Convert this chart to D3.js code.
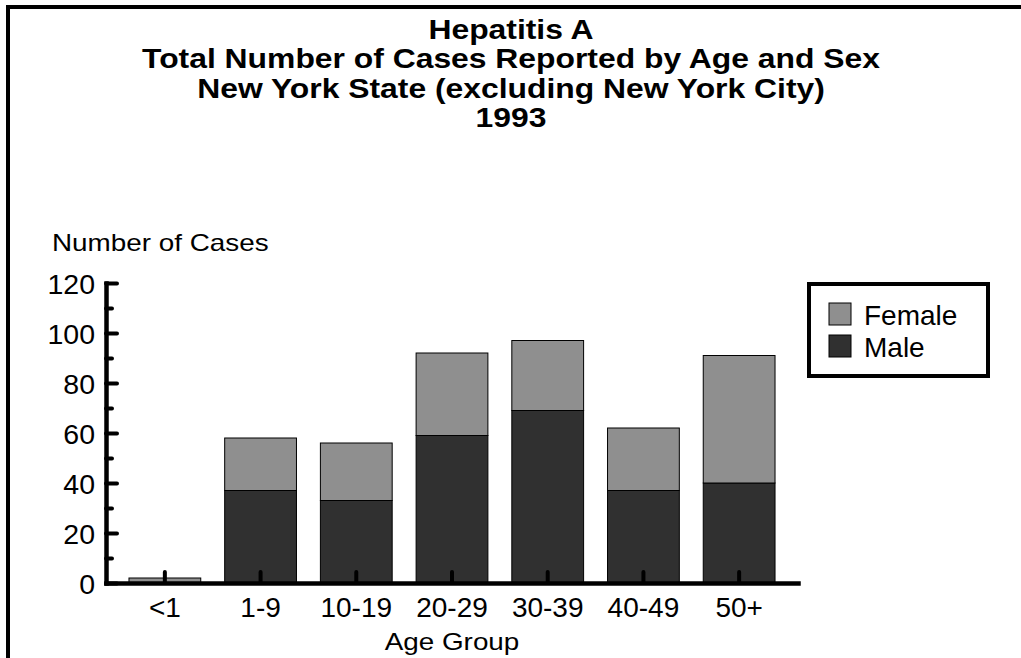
<!DOCTYPE html>
<html>
<head>
<meta charset="utf-8">
<script src="https://cdn.jsdelivr.net/npm/d3@7"></script>
<style>
  body { margin: 0; background: #fff; }
  text { font-family: "Liberation Sans", Arial, sans-serif; fill: #000; }
</style>
</head>
<body>
<div class="container"></div>
<script>
// Chart data
const ageGroups = ["<1", "1-9", "10-19", "20-29", "30-39", "40-49", "50+"];
const maleCases = [0, 37, 33, 59, 69, 37, 40];
const femaleCases = [2, 21, 23, 33, 28, 25, 51];
const yTicks = [0, 20, 40, 60, 80, 100, 120];
const yMinorTicks = [10, 30, 50, 70, 90, 110];
const titleLines = [
  "Hepatitis A",
  "Total Number of Cases Reported by Age and Sex",
  "New York State (excluding New York City)",
  "1993"
];
const seriesNames = ["Female", "Male"];

const width = 1021;
const height = 658;

const color = d3.scaleOrdinal()
    .domain(seriesNames)
    .range(["#8f8f8f", "#303030"]);

const svg = d3.select(".container").append("svg")
    .attr("width", width)
    .attr("height", height);

// page frame (top + left edges only)
svg.append("path")
    .attr("d", "M8," + height + "V7H" + width)
    .attr("fill", "none")
    .attr("stroke", "#000")
    .attr("stroke-width", 4);

// helper for (optionally) horizontally stretched text
function label(x, y, txt, anchor, size, weight, sx) {
  svg.append("g")
      .attr("transform", "translate(" + x + "," + y + ")")
    .append("text")
      .attr("transform", "scale(" + (sx || 1) + ",1)")
      .attr("text-anchor", anchor)
      .attr("font-size", size)
      .attr("font-weight", weight || "normal")
      .text(txt);
}

// title
titleLines.forEach(function(t, i) {
  label(511, 38.5 + i * 29.5, t, "middle", 27, "bold", 1.18);
});

// scales
const x = d3.scaleBand()
    .domain(ageGroups)
    .range([106, 798])
    .paddingInner(0.25)
    .paddingOuter(0.24);

const y = d3.scaleLinear()
    .domain([0, 120])
    .range([583, 283]);

// stacked bars
const rows = ageGroups.map(function(g, i) {
  return { group: g, Male: maleCases[i], Female: femaleCases[i] };
});
const stacked = d3.stack().keys(["Male", "Female"])(rows);

svg.append("g")
  .selectAll("g")
  .data(stacked)
  .enter().append("g")
    .attr("fill", d => color(d.key))
  .selectAll("rect")
  .data(d => d.filter(p => p[1] > p[0]))
  .enter().append("rect")
    .attr("x", d => x(d.data.group))
    .attr("y", d => y(d[1]))
    .attr("width", x.bandwidth())
    .attr("height", d => y(d[0]) - y(d[1]))
    .attr("stroke", "#000")
    .attr("stroke-width", 1);

// y axis: major + minor ticks pointing inward
const yAxis = svg.append("g")
    .attr("transform", "translate(106,0)")
    .call(d3.axisLeft(y)
        .tickValues(yTicks)
        .tickSizeInner(-11)
        .tickSizeOuter(0)
        .tickPadding(11)
        .tickFormat(d3.format("d")));

svg.append("g")
    .attr("transform", "translate(106,0)")
    .call(d3.axisLeft(y)
        .tickValues(yMinorTicks)
        .tickSizeInner(-6)
        .tickSizeOuter(0)
        .tickFormat(""))
    .call(g => g.select(".domain").remove());

yAxis.selectAll("text")
    .attr("font-size", 28.5)
    .attr("dy", "0.36em");

// x axis with upward ticks at bar centers
const xAxis = svg.append("g")
    .attr("transform", "translate(0,583)")
    .call(d3.axisBottom(x)
        .tickSizeInner(-11)
        .tickSizeOuter(0)
        .tickPadding(14));

xAxis.selectAll("text")
    .attr("font-size", 28);

svg.selectAll(".domain")
    .attr("stroke-width", 4.5)
    .attr("stroke-linecap", "square");
svg.selectAll(".tick line")
    .attr("stroke-width", 4)
    .attr("stroke-linecap", "round");

// axis titles
label(52, 251, "Number of Cases", "start", 24, "normal", 1.16);
label(452, 650, "Age Group", "middle", 24, "normal", 1.16);

// legend
const legend = svg.append("g")
    .attr("transform", "translate(809,284)");

legend.append("rect")
    .attr("width", 179)
    .attr("height", 92)
    .attr("fill", "#fff")
    .attr("stroke", "#000")
    .attr("stroke-width", 4);

seriesNames.forEach(function(name, i) {
  legend.append("rect")
      .attr("x", 20)
      .attr("y", 19 + i * 32)
      .attr("width", 22)
      .attr("height", 22)
      .attr("fill", color(name))
      .attr("stroke", "#000")
      .attr("stroke-width", 1);
  legend.append("text")
      .attr("x", 55)
      .attr("y", 41 + i * 32)
      .attr("font-size", 28)
      .text(name);
});
</script>
</body>
</html>
